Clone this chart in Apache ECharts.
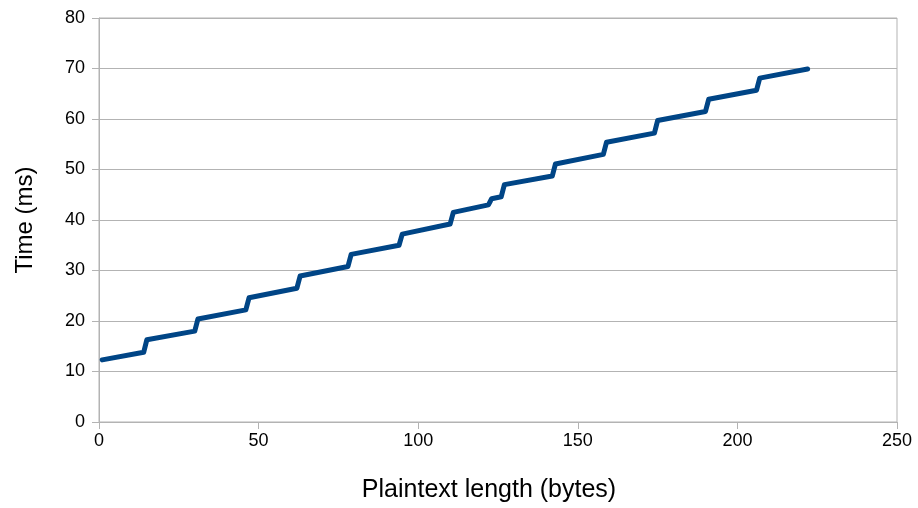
<!DOCTYPE html>
<html>
<head>
<meta charset="utf-8">
<script src="https://cdn.jsdelivr.net/npm/echarts@6/dist/echarts.min.js"></script>
<style>
  html, body { margin: 0; padding: 0; background: #fff; }
  #chart { width: 918px; height: 508px; }
</style>
</head>
<body>
<div id="chart"></div>
<script>
// break points of the timing curve (bytes, ms)
const lengths = [1, 14, 15, 30, 31, 46, 47, 62, 63, 78, 79, 94, 95, 110, 111, 122, 123, 126, 127, 142, 143, 158, 159, 174, 175, 190, 191, 206, 207, 222]
const times = [12.3, 13.8, 16.3, 18.0, 20.4, 22.2, 24.6, 26.5, 28.9, 30.8, 33.2, 35.0, 37.2, 39.2, 41.5, 43.0, 44.2, 44.6, 47.0, 48.7, 51.1, 53.0, 55.4, 57.2, 59.7, 61.5, 63.9, 65.7, 68.1, 69.9]

const gridColor = '#b3b3b3'
const font = 'Liberation Sans, Arial, sans-serif'

const chart = echarts.init(document.getElementById('chart'))
chart.setOption({
  animation: false,
  grid: {
    left: 99,
    right: 21,
    top: 18,
    bottom: 85,
    show: true,
    borderColor: gridColor,
    borderWidth: 1,
  },
  xAxis: {
    type: 'value',
    min: 0,
    max: 250,
    interval: 50,
    name: 'Plaintext length (bytes)',
    nameLocation: 'middle',
    nameGap: 56,
    nameTextStyle: { fontFamily: font, fontSize: 25, color: '#000', padding: [0, 18, 0, 0] },
    axisLine: { show: true, lineStyle: { color: gridColor } },
    axisTick: { show: true, length: 7, lineStyle: { color: gridColor } },
    axisLabel: { fontFamily: font, fontSize: 18, color: '#000', margin: 10 },
    splitLine: { show: false },
  },
  yAxis: {
    type: 'value',
    min: 0,
    max: 80,
    interval: 10,
    name: 'Time (ms)',
    nameLocation: 'middle',
    nameGap: 62,
    nameTextStyle: { fontFamily: font, fontSize: 24, color: '#000' },
    axisLine: { show: true, lineStyle: { color: gridColor } },
    axisTick: { show: true, length: 7, lineStyle: { color: gridColor } },
    axisLabel: { fontFamily: font, fontSize: 18, color: '#000', margin: 14 },
    splitLine: { show: true, lineStyle: { color: gridColor, width: 1 } },
  },
  series: [
    {
      type: 'line',
      data: lengths.map((x, i) => [x, times[i]]),
      showSymbol: false,
      lineStyle: { color: '#004586', width: 5, cap: 'round', join: 'round' },
    },
  ],
})
</script>
</body>
</html>
